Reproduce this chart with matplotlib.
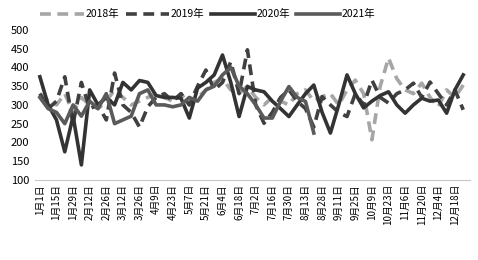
import matplotlib.pyplot as plt

plt.rcParams['font.family'] = ['Noto Sans CJK SC', 'DejaVu Sans']

# weekly values, 52 weeks
y2018 = [330, 310, 300, 330, 280, 320, 300, 290, 310, 340, 320, 300, 310, 320, 330, 320,
         310, 330, 300, 320, 340, 360, 370, 340, 330, 350, 320, 300, 320, 310, 300, 330,
         340, 310, 322, 330, 300, 340, 366, 330, 207, 350, 425, 370, 340, 330, 358, 320,
         295, 340, 320, 353]
y2019 = [330, 290, 310, 375, 250, 360, 290, 300, 260, 385, 300, 280, 241, 295, 320, 330,
         310, 330, 300, 350, 393, 340, 360, 415, 330, 447, 300, 251, 280, 320, 340, 310,
         290, 241, 322, 300, 280, 269, 330, 300, 366, 320, 305, 330, 340, 358, 320, 361,
         330, 300, 340, 287]
y2020 = [375, 300, 260, 175, 270, 140, 340, 300, 320, 300, 360, 340, 365, 360, 325, 320,
         320, 318, 265, 345, 360, 380, 433, 360, 269, 349, 340, 335, 310, 290, 269, 300,
         330, 353, 280, 225, 300, 380, 330, 292, 310, 325, 335, 300, 278, 300, 318, 310,
         313, 278, 340, 380]
y2021 = [320, 290, 280, 250, 300, 270, 310, 290, 330, 250, 260, 270, 330, 340, 300, 300,
         295, 300, 320, 310, 340, 350, 380, 400, 350, 330, 300, 265, 265, 310, 349, 320,
         309, 225]

ticklabels = ['1月1日', '1月15日', '1月29日', '2月12日', '2月26日', '3月12日', '3月26日',
              '4月9日', '4月23日', '5月7日', '5月21日', '6月4日', '6月18日', '7月2日',
              '7月16日', '7月30日', '8月13日', '8月28日', '9月11日', '9月25日', '10月9日',
              '10月23日', '11月6日', '11月20日', '12月4日', '12月18日']

fig = plt.figure(figsize=(4.78, 2.60), dpi=100)
ax = fig.add_axes([0.073, 0.308, 0.91, 0.577])

dash = (0, (3, 1.8))
ax.plot(range(len(y2018)), y2018, color='#a6a6a6', lw=2.6, ls=dash, label='2018年')
ax.plot(range(len(y2019)), y2019, color='#404040', lw=2.6, ls=dash, label='2019年')
ax.plot(range(len(y2020)), y2020, color='#333333', lw=2.6, label='2020年')
ax.plot(range(len(y2021)), y2021, color='#5a5a5a', lw=2.6, label='2021年')

ax.set_ylim(100, 500)
ax.set_yticks(range(100, 501, 50))
ax.set_xlim(-0.6, 51.8)
ax.set_xticks(range(0, 52, 2))
ax.set_xticklabels(ticklabels, rotation=90, fontsize=7)
ax.tick_params(axis='y', labelsize=8, length=0, pad=4)
ax.tick_params(axis='x', length=0, pad=3)
for s in ['top', 'right', 'left']:
    ax.spines[s].set_visible(False)
ax.spines['bottom'].set_color('#c8c8c8')

fig.legend(loc='upper left', bbox_to_anchor=(0.065, 1.0), ncol=4, frameon=False,
           fontsize=7.5, handlelength=4.2, handletextpad=0.15, columnspacing=0.6)

fig.savefig('out.png', dpi=100)
